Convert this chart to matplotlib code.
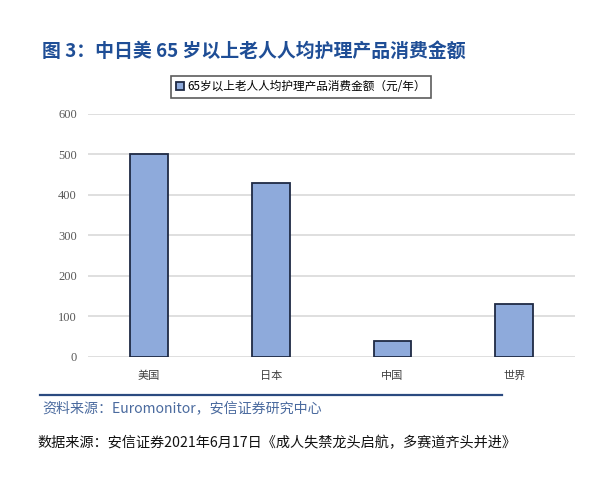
import matplotlib.pyplot as plt
from matplotlib.lines import Line2D

plt.rcParams["font.family"] = ["Noto Sans CJK SC", "DejaVu Sans"]

categories = ["美国", "日本", "中国", "世界"]
values = [500, 430, 40, 130]
series_name = "65岁以上老人人均护理产品消费金额（元/年）"
yticks = [0, 100, 200, 300, 400, 500, 600]

title = "图 3：中日美 65 岁以上老人人均护理产品消费金额"
source = "资料来源：Euromonitor，安信证券研究中心"
footer = "数据来源：安信证券2021年6月17日《成人失禁龙头启航，多赛道齐头并进》"

fig = plt.figure(figsize=(6, 5.01), dpi=100)
ax = fig.add_axes([0.1467, 0.288, 0.8117, 0.4845])

bars = ax.bar(range(len(categories)), values, width=0.31,
              color="#8eaadb", edgecolor="#1f2a44", linewidth=1.3,
              label=series_name, zorder=3)

ax.set_xlim(-0.5, len(categories) - 0.5)
ax.set_ylim(0, 600)
ax.set_yticks(yticks)
ax.set_yticklabels([str(t) for t in yticks], family="Liberation Serif",
                   fontsize=9, color="#595959")
ax.set_xticks(range(len(categories)))
ax.set_xticklabels(categories, fontsize=8, color="#404040")
ax.tick_params(axis="x", length=0, pad=10)
ax.tick_params(axis="y", length=0, pad=8)
ax.yaxis.grid(True, color="#d9d9d9", linewidth=1.2, zorder=0)
for s in ax.spines.values():
    s.set_visible(False)

leg = fig.legend(handles=[bars], labels=[series_name],
                 loc="center", bbox_to_anchor=(0.502, 0.827),
                 fontsize=8.4, frameon=True, fancybox=False,
                 edgecolor="#333333", handlelength=0.7, handleheight=0.7,
                 handletextpad=0.3, borderpad=0.4)
leg.get_frame().set_linewidth(1.2)

fig.text(0.07, 0.898, title, fontsize=13.6, fontweight="bold",
         color="#1f4e96", va="center", ha="left")

fig.add_artist(Line2D([0.067, 0.837], [0.212, 0.212], color="#2b4a80",
                      linewidth=1.6, transform=fig.transFigure))
fig.text(0.07, 0.183, source, fontsize=10.1, style="italic",
         color="#4a6a9e", va="center", ha="left")
fig.text(0.063, 0.116, footer, fontsize=10.2, color="#111111",
         va="center", ha="left")

fig.savefig("out.png", dpi=100)
